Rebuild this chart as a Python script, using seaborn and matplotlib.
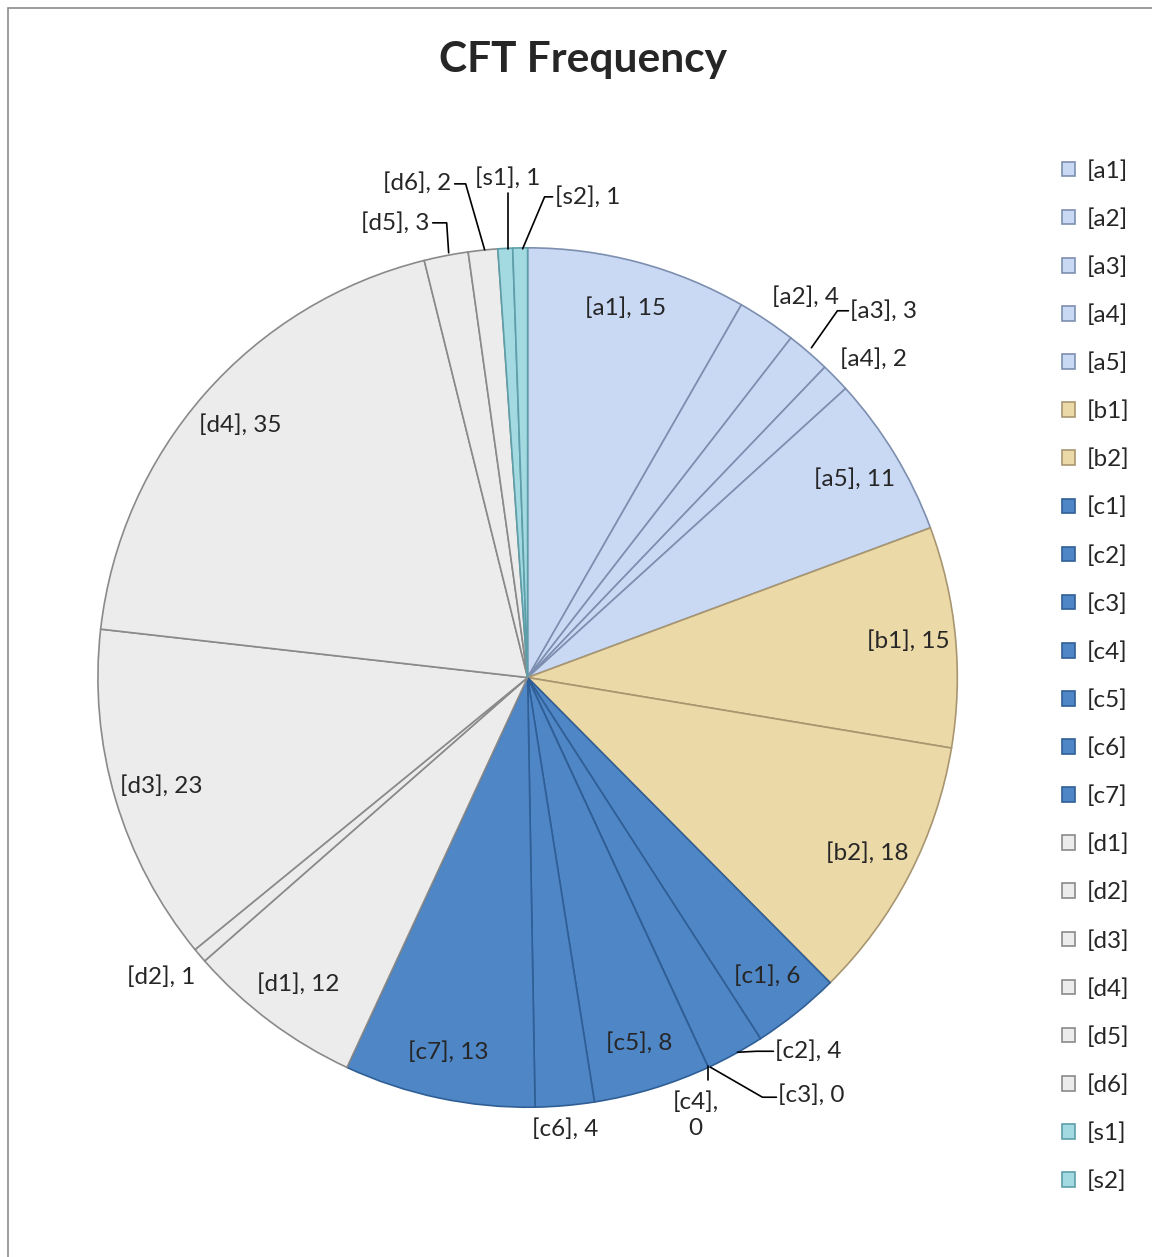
import numpy as np
import matplotlib
matplotlib.use('Agg')
import matplotlib.pyplot as plt
import seaborn as sns
from matplotlib.patches import Rectangle

# data
categories = ['[a1]', '[a2]', '[a3]', '[a4]', '[a5]', '[b1]', '[b2]',
              '[c1]', '[c2]', '[c3]', '[c4]', '[c5]', '[c6]', '[c7]',
              '[d1]', '[d2]', '[d3]', '[d4]', '[d5]', '[d6]', '[s1]', '[s2]']
counts = [15, 4, 3, 2, 11, 15, 18,
          6, 4, 0, 0, 8, 4, 13,
          12, 1, 23, 35, 3, 2, 1, 1]
groups = ['a'] * 5 + ['b'] * 2 + ['c'] * 7 + ['d'] * 6 + ['s'] * 2

group_colors = {'a': '#c9d9f3', 'b': '#ecd9a8', 'c': '#4f86c6',
                'd': '#ececec', 's': '#a3d9e0'}
edge_colors = {'a': '#7d8fb0', 'b': '#a89670', 'c': '#2f5f96',
               'd': '#8a8a8a', 's': '#5e9ea8'}

sns.set_style('white')
plt.rcParams['font.family'] = ['Lato', 'DejaVu Sans']

fig = plt.figure(figsize=(11.52, 12.57), dpi=100)
ax = fig.add_axes([0.085, 0.119, 0.746, 0.684])

colors = [group_colors[g] for g in groups]
wedges, _ = ax.pie(counts, startangle=90, counterclock=False, radius=1,
                   colors=colors,
                   wedgeprops=dict(linewidth=1.2))
for w, g in zip(wedges, groups):
    w.set_edgecolor(edge_colors[g])
ax.set_xlim(-1, 1)
ax.set_ylim(-1, 1)
ax.set_aspect('equal')
ax.axis('off')

# label layout: inside labels at fixed radius, others placed by hand
px = 430.0
def pt(x, y):
    return ((x - 528) / px, (677 - y) / px)

free_labels = {
    '[a2]': (pt(806, 296), 'center', None),
    '[a4]': (pt(874, 358), 'center', None),
    '[c6]': (pt(566, 1129), 'center', None),
    '[d2]': (pt(161, 977), 'center', None),
    '[a3]': (pt(851, 310), 'left', [pt(812, 347), pt(838, 310), pt(849, 310)]),
    '[c2]': (pt(776, 1051), 'left', [pt(738, 1052), pt(757, 1051), pt(774, 1051)]),
    '[c3]': (pt(779, 1095), 'left', [pt(711, 1067), pt(763, 1097), pt(777, 1097)]),
    '[c4]': (pt(696, 1115), 'center', [pt(709, 1066), pt(709, 1080)]),
    '[d5]': (pt(430, 222), 'right', [pt(433, 222), pt(447, 222), pt(449, 252)]),
    '[d6]': (pt(452, 182), 'right', [pt(455, 183), pt(466, 183), pt(485, 249)]),
    '[s1]': (pt(508, 177), 'center', [pt(508, 192), pt(508, 248)]),
    '[s2]': (pt(555, 196), 'left', [pt(553, 196), pt(545, 196), pt(523, 248)]),
}

fs = 17.5
for w, cat, val in zip(wedges, categories, counts):
    text = f'{cat}, {val}'
    if cat in free_labels:
        (tx, ty), ha, line = free_labels[cat]
        if cat == '[c4]':
            text = f'{cat},\n{val}'
        ax.text(tx, ty, text, ha=ha, va='center', fontsize=fs,
                linespacing=1.3)
        if line is not None:
            xs, ys = zip(*line)
            ax.plot(xs, ys, color='black', lw=1.2, clip_on=False)
    else:
        ang = np.deg2rad((w.theta1 + w.theta2) / 2)
        r = 0.89
        ax.text(r * np.cos(ang), r * np.sin(ang), text, ha='center',
                va='center', fontsize=fs)

fig.text(583 / 1152, 1 - 60 / 1257, 'CFT Frequency', ha='center', va='center',
         fontsize=30.5, fontweight='bold')

leg = fig.legend(wedges, categories, loc='upper left',
                 bbox_to_anchor=(1062 / 1152, 1 - 160 / 1257),
                 frameon=False, fontsize=fs, handlelength=0.55,
                 handleheight=0.55, handletextpad=0.45, labelspacing=1.09,
                 borderaxespad=0, borderpad=0)

fig.patches.append(Rectangle((8 / 1152, -0.01), 1.1, 1 - 8 / 1257 + 0.01,
                             transform=fig.transFigure, fill=False,
                             edgecolor='#8c8c8c', lw=1.2))

plt.savefig('out.png', dpi=100)
